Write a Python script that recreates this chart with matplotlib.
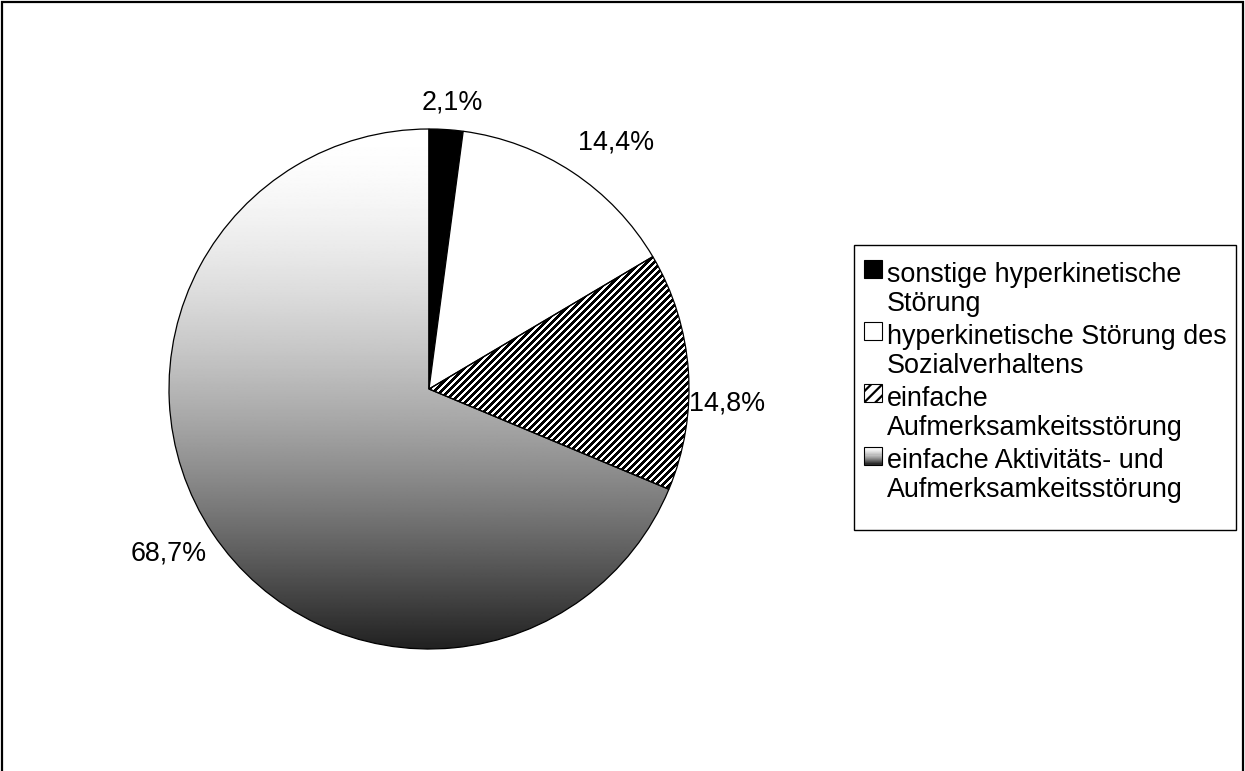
import numpy as np
import matplotlib
matplotlib.use("Agg")
import matplotlib.pyplot as plt
from matplotlib.patches import Rectangle
from matplotlib.legend_handler import HandlerBase

plt.rcParams['font.family'] = ['Liberation Sans', 'DejaVu Sans']
plt.rcParams['hatch.linewidth'] = 1.6

# data
categories = ["sonstige hyperkinetische\nStörung",
              "hyperkinetische Störung des\nSozialverhaltens",
              "einfache\nAufmerksamkeitsstörung",
              "einfache Aktivitäts- und\nAufmerksamkeitsstörung"]
shares = [2.1, 14.4, 14.8, 68.7]
label_texts = ["2,1%", "14,4%", "14,8%", "68,7%"]

# styles
face = ["black", "white", "none", "none"]
label_dist = [1.107, 1.189, 1.147, 1.183]
label_turn = [-0.8, -3.7, -6.7, -1.4]   # degrees

W, H = 1245, 771
FS = 19.4
fig = plt.figure(figsize=(W / 100, H / 100), dpi=100)
ax = fig.add_axes([0, 0, 1, 1])

cx, cy, r = 429, 382, 260
wedges, _ = ax.pie(shares, startangle=90, counterclock=False, center=(cx, cy), radius=r,
                   colors=face, wedgeprops=dict(edgecolor="black", linewidth=0.9),
                   frame=True)
ext = [cx - r, cx + r, cy - r, cy + r]

# diagonal stripes for the third wedge
n = 2 * r
rows, cols = np.mgrid[0:n, 0:n]
stripes = ((rows + cols) % 7 < 4).astype(float)
simg = ax.imshow(1 - stripes, cmap="gray", vmin=0, vmax=1, extent=ext, origin="upper",
                 aspect="auto", zorder=0.5, interpolation="nearest")
simg.set_clip_path(wedges[2])

# gradient fill for the big wedge
t = np.linspace(0, 1, 400)[:, None]   # 0 = top, 1 = bottom
shade = 1 - 0.87 * t ** 1.6
img = ax.imshow(shade, cmap="gray", vmin=0, vmax=1, extent=ext,
                origin="upper", aspect="auto", zorder=0.5, interpolation="bilinear")
img.set_clip_path(wedges[3])
for w in wedges:
    w.set_zorder(1)

# percentage labels
for w, txt, d, turn in zip(wedges, label_texts, label_dist, label_turn):
    ang = np.deg2rad((w.theta1 + w.theta2) / 2 + turn)
    ax.text(cx + d * r * np.cos(ang), cy + d * r * np.sin(ang), txt,
            ha="center", va="center", fontsize=FS)

ax.set_xlim(0, W)
ax.set_ylim(0, H)
ax.set_aspect("equal")
ax.axis("off")

# outer frame (bottom edge lies outside the image)
ax.plot([1.5, 1.5, W - 2, W - 2], [-5, H - 1.5, H - 1.5, -5], color="black", lw=1.6,
        solid_joinstyle="miter", clip_on=False)


class SquareHandler(HandlerBase):
    def __init__(self, kinds):
        super().__init__()
        self.kinds = kinds

    def create_artists(self, legend, orig_handle, xdescent, ydescent, width, height,
                       fontsize, trans):
        s = 0.667 * fontsize
        y0 = -ydescent + 0.737 * fontsize
        x0 = -xdescent
        kind = self.kinds[id(orig_handle)]
        if kind == "gradient":
            arts = []
            k = 16
            for i in range(k):
                g = 1 - 0.87 * ((i + 0.5) / k) ** 1.6
                arts.append(Rectangle((x0, y0 + s - (i + 1) * s / k), s, s / k,
                                      facecolor=str(g), edgecolor="none", transform=trans))
            arts.append(Rectangle((x0, y0), s, s, facecolor="none", edgecolor="black",
                                  lw=0.8, transform=trans))
            return arts
        if kind == "stripes":
            return [Rectangle((x0, y0), s, s, facecolor="white", edgecolor="black",
                              lw=0.8, hatch="///", transform=trans)]
        return [Rectangle((x0, y0), s, s, facecolor=kind, edgecolor="black", lw=0.8,
                          transform=trans)]


kinds = {id(wedges[0]): "black", id(wedges[1]): "white",
         id(wedges[2]): "stripes", id(wedges[3]): "gradient"}
leg = ax.legend(wedges, categories, handler_map={type(wedges[0]): SquareHandler(kinds)},
                loc="upper left", bbox_to_anchor=(864, H - 262),
                bbox_transform=ax.transData, fontsize=FS, frameon=False,
                handlelength=0.667, handleheight=0.56, handletextpad=0.18,
                labelspacing=0.28, borderpad=0, borderaxespad=0)
for txt in leg.get_texts():
    txt.set_linespacing(1.13)

# legend box
ax.add_patch(Rectangle((854, H - 530), 382, 285, facecolor="none", edgecolor="black",
                       lw=1.0, zorder=0.2))

fig.savefig("out.png", dpi=100)
